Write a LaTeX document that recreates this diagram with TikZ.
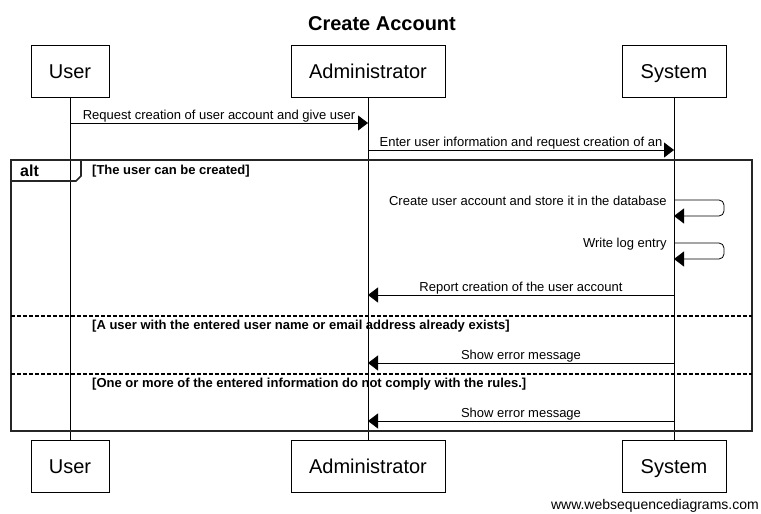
\documentclass[tikz,border=0pt]{standalone}
\usepackage{fontspec}
\setmainfont{Liberation Sans}
\usetikzlibrary{arrows.meta,positioning,calc}

\tikzset{
  actor/.style={draw,line width=0.8pt,minimum height=52pt,inner sep=0pt,text height=19pt,text depth=4pt,font=\fontsize{20}{24}\selectfont},
  lifeline/.style={line width=0.8pt},
  msg/.style={-{Triangle[length=10pt,width=15pt]},line width=0.8pt},
  msglabel/.style={above,inner sep=0pt,font=\fontsize{13}{15}\selectfont},
  selflabel/.style={anchor=east,inner sep=0pt,xshift=-7pt,yshift=-1pt,font=\fontsize{13}{15}\selectfont},
  guard/.style={anchor=west,inner sep=0pt,font=\bfseries\fontsize{13}{15}\selectfont},
  frame/.style={line width=1.6pt,draw=black!85},
  separator/.style={line width=1.2pt,dash pattern=on 4pt off 2pt},
}

\begin{document}
\begin{tikzpicture}[x=1pt,y=-1pt]
\useasboundingbox (0,0) rectangle (761,514);

% title
\node[font=\bfseries\fontsize{20}{24}\selectfont] (title) at (382,24) {Create Account};

% actors and lifelines
\foreach \name/\x/\w/\txt in {user/70/78/User, admin/368/154/Administrator, sys/674/104/System} {
  \node[actor,minimum width=\w pt] (\name Top) at (\x,71) {\txt};
  \node[actor,minimum width=\w pt] (\name Bot) at (\x,466) {\txt};
  \draw[lifeline] (\name Top) -- (\name Bot);
}

% rows of the messages
\coordinate (r1) at (0,123);
\coordinate (r2) at (0,150);
\coordinate (r3) at (0,200);
\coordinate (r4) at (0,243);
\coordinate (r5) at (0,295);
\coordinate (r6) at (0,363);
\coordinate (r7) at (0,421);

% alt frame
\draw[frame] (11,160) rectangle (752,431);
\draw[frame] (11,181) -- (76,181) -- (81,176) -- (81,160);
\node[font=\bfseries\fontsize{16}{18}\selectfont,anchor=west,inner sep=0pt] (altlabel) at (20,171) {alt};
\draw[separator] (11,316) -- (752,316);
\draw[separator] (11,374) -- (752,374);

% guards
\node[guard] (guard1) at (92,171) {[The user can be created]};
\node[guard] (guard2) at (92,326) {[A user with the entered user name or email address already exists]};
\node[guard] (guard3) at (92,384) {[One or more of the entered information do not comply with the rules.]};

% messages
\draw[msg] (userTop |- r1) -- node[msglabel] (l1) {Request creation of user account and give user} (adminTop |- r1);
\draw[msg] (adminTop |- r2) -- node[msglabel] (l2) {Enter user information and request creation of an} (sysTop |- r2);
\draw[msg,rounded corners=5pt] (sysTop |- r3) node[selflabel] (l3) {Create user account and store it in the database} -- ++(50,0) -- ++(0,16) -- ++(-50,0);
\draw[msg,rounded corners=5pt] (sysTop |- r4) node[selflabel] (l4) {Write log entry} -- ++(50,0) -- ++(0,16) -- ++(-50,0);
\draw[msg] (sysTop |- r5) -- node[msglabel] (l5) {Report creation of the user account} (adminTop |- r5);
\draw[msg] (sysTop |- r6) -- node[msglabel] (l6) {Show error message} (adminTop |- r6);
\draw[msg] (sysTop |- r7) -- node[msglabel] (l7) {Show error message} (adminTop |- r7);

% footer
\node[anchor=east,inner sep=0pt,font=\fontsize{14}{16}\selectfont] (footer) at (759,506) {www.websequencediagrams.com};
\end{tikzpicture}
\end{document}
